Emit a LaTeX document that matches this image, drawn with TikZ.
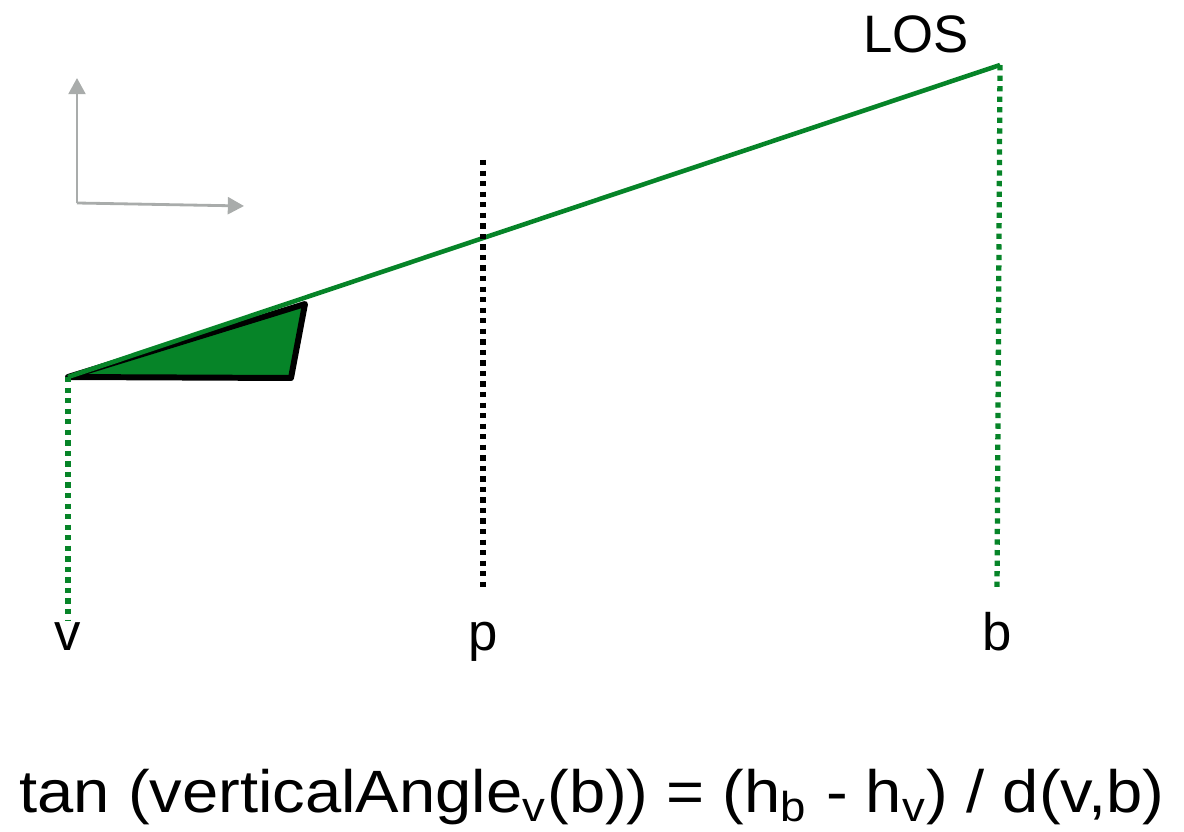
\documentclass[tikz,border=0pt]{standalone}
\usepackage{xcolor}
\usepackage{fontspec}
\setmainfont{Liberation Sans}
\usepackage{tikz}
\usetikzlibrary{arrows.meta, positioning}

\begin{document}
\begin{tikzpicture}[font=\fontsize{15}{18}\selectfont]
  \definecolor{losgreen}{HTML}{068428}
  \definecolor{axisgray}{HTML}{A9ACAB}
  \tikzset{
    dotline/.style={line width=1.5pt, dash pattern=on 1.5pt off 1.5pt},
    axisline/.style={axisgray, line width=0.8pt, -{Triangle[length=4.6pt,width=4.8pt]}},
    lbl/.style={anchor=base, inner sep=0pt}
  }
  \useasboundingbox (0,0) rectangle (11.84,8.31);

  % points
  \coordinate (v) at (0.68,4.54);
  \coordinate (vfoot) at (0.68,2.11);
  \coordinate (btop) at (10.00,7.66);
  \coordinate (bfoot) at (9.97,2.41);
  \coordinate (ptop) at (4.83,6.71);
  \coordinate (pfoot) at (4.83,2.39);
  \coordinate (apex) at (3.05,5.27);
  \coordinate (corner) at (2.91,4.53);

  % axes
  \coordinate (org) at (0.77,6.28);
  \coordinate (ytip) at (0.77,7.53);
  \coordinate (xtip) at (2.44,6.25);
  \draw[axisline] (org) -- (ytip);
  \draw[axisline] (org) -- (xtip);

  % line of sight
  \filldraw[fill=losgreen, draw=black, line width=1.7pt, line join=round] (v) -- (apex) -- (corner) -- cycle;
  \draw[losgreen, line width=1.3pt] (v) -- (btop);

  \draw[dotline, losgreen] (v) -- (vfoot);
  \draw[dotline, losgreen] (btop) -- (bfoot);
  \draw[dotline, black] (ptop) -- (pfoot);

  % labels
  \node[lbl] (los) at (9.16,7.78) {LOS};
  \node[lbl] (vlbl) at (0.68,1.81) {v};
  \node[lbl] (plbl) at (4.83,1.81) {p};
  \node[lbl] (blbl) at (9.97,1.81) {b};

  \node[lbl, font=\fontsize{17}{20}\selectfont] (formula) at (5.92,0.19)
    {\resizebox{11.45cm}{\height}{tan (verticalAngle\textsubscript{v}(b)) = (h\textsubscript{b} - h\textsubscript{v}) / d(v,b)}};
\end{tikzpicture}
\end{document}
